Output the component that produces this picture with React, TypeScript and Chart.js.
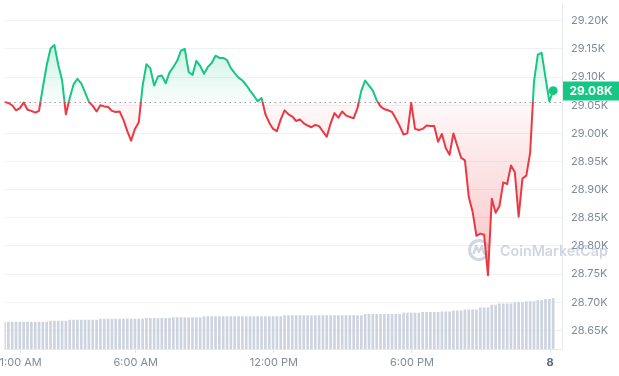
import React, { useEffect, useRef } from "react";
import { Chart, registerables } from "chart.js";

Chart.register(...registerables);

// ---- data ----
const START_MINUTE = 18; // minutes after midnight of first sample
const STEP_MINUTES = 10;
const AXIS_END_MINUTE = 1471;

const prices = [
  29056, 29054, 29050, 29041, 29045, 29055, 29042, 29040, 29037, 29040,
  29082, 29121, 29151, 29157, 29122, 29095, 29034, 29063, 29087, 29097,
  29089, 29073, 29056, 29049, 29039, 29050, 29048, 29047, 29040, 29038,
  29039, 29024, 29004, 28987, 29008, 29020, 29085, 29123, 29116, 29085,
  29101, 29103, 29089, 29108, 29118, 29129, 29147, 29150, 29109, 29104,
  29129, 29120, 29106, 29118, 29125, 29138, 29134, 29134, 29130, 29116,
  29107, 29099, 29094, 29086, 29076, 29067, 29057, 29063, 29034, 29019,
  29008, 29004, 29025, 29041, 29034, 29030, 29022, 29025, 29018, 29014,
  29011, 29015, 29013, 29003, 28994, 29018, 29036, 29028, 29039, 29032,
  29029, 29027, 29045, 29076, 29094, 29085, 29076, 29059, 29048, 29043,
  29041, 29038, 29026, 29013, 28998, 29000, 29054, 29008, 29006, 29008,
  29014, 29013, 29013, 28985, 28999, 28974, 28962, 29000, 28978, 28957,
  28952, 28887, 28861, 28818, 28822, 28820, 28748, 28884, 28859, 28871,
  28913, 28910, 28943, 28931, 28852, 28920, 28925, 28966, 29092, 29140,
  29143, 29099, 29057, 29076,
];

// 24h volume (billions)
const volumes = [
  12.0, 12.0, 12.0, 12.0, 12.0, 12.0, 12.0, 12.0, 12.0, 12.0, 12.0, 12.0,
  12.4, 12.4, 12.4, 12.4, 12.4,
  12.9, 12.9, 12.9, 12.9, 12.9, 12.9, 12.9, 12.9,
  13.3, 13.3, 13.3, 13.3, 13.3, 13.3, 13.3, 13.3, 13.3, 13.3, 13.3, 13.3,
  13.7, 13.7, 13.7, 13.7, 13.7, 13.7, 13.7,
  14.0, 14.0, 14.0, 14.0, 14.0, 14.0, 14.0, 14.0,
  14.4, 14.4, 14.4, 14.4, 14.4, 14.4, 14.4, 14.4, 14.4, 14.4, 14.4, 14.4, 14.4, 14.4, 14.4, 14.4, 14.4, 14.4, 14.4, 14.4, 14.4,
  14.9, 14.9, 14.9, 14.9, 14.9, 14.9, 14.9, 14.9, 14.9, 14.9, 14.9, 14.9, 14.9, 14.9, 14.9, 14.9, 14.9, 14.9, 14.9, 14.9, 14.9,
  15.4, 15.4, 15.4, 15.4, 15.4, 15.4, 15.4, 15.4, 15.4, 15.4,
  16.0, 16.0, 16.0, 16.0, 16.0,
  16.3, 16.3, 16.3, 16.3, 16.3,
  16.6, 16.6, 16.6,
  17.0, 17.0, 17.0,
  17.4, 17.4, 17.4, 17.4,
  18.3, 18.3, 18.3,
  19.6, 19.6,
  20.1, 20.1, 20.1, 20.1,
  20.7, 20.7, 20.7,
  21.1, 21.1, 21.1,
  21.6, 21.6,
  22.1, 22.1,
  22.4,
];
const VOLUME_AXIS_MAX = 153.4;

const xTickMinutes = [60, 360, 720, 1080, 1440];
const xTickLabels = ["1:00 AM", "6:00 AM", "12:00 PM", "6:00 PM", "8"];

const yTicks = [28650, 28700, 28750, 28800, 28850, 28900, 28950, 29000, 29050, 29100, 29150, 29200];
const Y_MIN = 28617;
const Y_MAX = 29229;

const WATERMARK = "CoinMarketCap";

// ---- styles ----
const FONT = "Inter, 'Noto Sans', sans-serif";
const GREEN = "#16c784";
const RED = "#ea3943";
const LABEL = "#808a9d";
const GRID = "#eff2f5";

const fmtK = (v: number) => (v / 1000).toFixed(2) + "K";

export default function App() {
  const ref = useRef<HTMLCanvasElement>(null);

  useEffect(() => {
    document.body.style.margin = "0";
    const canvas = ref.current!;
    const openPrice = prices[0];
    const lastPrice = prices[prices.length - 1];
    const n = prices.length;

    const linePoints = prices.map((p, i) => ({ x: START_MINUTE + i * STEP_MINUTES, y: p }));
    const volPoints = volumes.map((v, i) => ({ x: START_MINUTE + i * STEP_MINUTES, y: v }));

    const overlay = {
      id: "overlay",
      beforeDatasetsDraw(chart: any) {
        const { ctx, chartArea, scales } = chart;
        // watermark
        ctx.save();
        const col = "rgba(161,173,199,0.5)";
        const cx = chartArea.right - 83;
        const cy = chartArea.bottom - 99;
        ctx.strokeStyle = col;
        ctx.lineWidth = 3;
        ctx.beginPath();
        ctx.arc(cx, cy, 9.5, Math.PI * 0.15, Math.PI * 1.95);
        ctx.stroke();
        ctx.lineWidth = 2.4;
        ctx.lineJoin = "round";
        ctx.beginPath();
        ctx.moveTo(cx - 5.5, cy + 4);
        ctx.lineTo(cx - 3, cy - 4);
        ctx.lineTo(cx, cy + 2);
        ctx.lineTo(cx + 3, cy - 4);
        ctx.lineTo(cx + 5, cy + 4);
        ctx.lineTo(cx + 9, cy + 1);
        ctx.stroke();
        ctx.fillStyle = col;
        let size = 17;
        ctx.font = `600 ${size}px ${FONT}`;
        const w = ctx.measureText(WATERMARK).width;
        size = Math.min(17, (17 * 108) / w);
        ctx.font = `600 ${size}px ${FONT}`;
        ctx.textAlign = "left";
        ctx.textBaseline = "middle";
        ctx.fillText(WATERMARK, cx + 21, cy + 1.5);
        ctx.restore();

        // dotted opening price line
        const y = Math.round(scales.y.getPixelForValue(openPrice)) + 0.5;
        ctx.save();
        ctx.beginPath();
        ctx.setLineDash([1.5, 3.5]);
        ctx.strokeStyle = "#9aa1b0";
        ctx.lineWidth = 1;
        ctx.moveTo(chartArea.left, y);
        ctx.lineTo(chartArea.right, y);
        ctx.stroke();
        ctx.restore();
      },
      afterDraw(chart: any) {
        const { ctx, chartArea, scales, width } = chart;
        const y = scales.y.getPixelForValue(lastPrice);
        ctx.save();
        ctx.fillStyle = lastPrice >= openPrice ? GREEN : RED;
        const left = chartArea.right + 1;
        ctx.fillRect(left, Math.round(y) - 9.5, width - left, 19);
        ctx.fillStyle = "#ffffff";
        ctx.font = `bold 12px ${FONT}`;
        ctx.textAlign = "center";
        ctx.textBaseline = "middle";
        ctx.fillText(fmtK(lastPrice), (left + width) / 2, Math.round(y) + 0.5);
        ctx.restore();
      },
    };

    const chart = new Chart(canvas, {
      type: "line",
      data: {
        datasets: [
          {
            type: "line",
            data: linePoints,
            yAxisID: "y",
            borderColor: GREEN,
            borderWidth: 2,
            borderJoinStyle: "round",
            tension: 0,
            pointRadius: (c: any) => (c.dataIndex === n - 1 ? 4.5 : 0),
            pointBackgroundColor: lastPrice >= openPrice ? GREEN : RED,
            pointBorderWidth: 0,
            pointHoverRadius: 0,
            fill: { target: { value: openPrice }, above: "rgba(22,199,132,0.1)", below: "rgba(234,57,67,0.1)" },
            order: 0,
          } as any,
          {
            type: "bar",
            data: volPoints,
            yAxisID: "yv",
            backgroundColor: "#cdd3df",
            barThickness: 2,
            order: 1,
          } as any,
        ],
      },
      options: {
        responsive: false,
        animation: false,
        events: [],
        layout: { padding: 0 },
        plugins: { legend: { display: false }, tooltip: { enabled: false } },
        scales: {
          x: {
            type: "linear",
            offset: false,
            min: START_MINUTE,
            max: AXIS_END_MINUTE,
            afterBuildTicks: (s: any) => {
              s.ticks = xTickMinutes.map((v) => ({ value: v }));
            },
            afterFit: (s: any) => {
              s.paddingLeft = 0;
              s.paddingRight = 0;
              s.height = 27;
            },
            grid: { display: true, offset: false, drawOnChartArea: false, drawTicks: true, tickLength: 4, color: "#dfe3ea" },
            border: { display: true, color: "#e6e9ee" },
            ticks: {
              autoSkip: false,
              maxRotation: 0,
              padding: 3,
              callback: (v: any) => {
                const k = xTickMinutes.indexOf(Number(v));
                return k >= 0 ? xTickLabels[k] : "";
              },
              color: (c: any) => (c.index === xTickLabels.length - 1 ? "#58667e" : LABEL),
              font: (c: any) => ({
                family: FONT,
                size: 11,
                weight: c.index === xTickLabels.length - 1 ? "bold" : "normal",
              }),
            },
          },
          y: {
            position: "right",
            min: Y_MIN,
            max: Y_MAX,
            afterBuildTicks: (s: any) => {
              s.ticks = yTicks.map((v) => ({ value: v }));
            },
            afterFit: (s: any) => {
              s.paddingTop = 0;
              s.paddingBottom = 0;
              s.width = 57;
            },
            grid: { color: GRID, drawTicks: false },
            border: { display: true, color: "#e6e9ee" },
            ticks: {
              padding: 9,
              color: LABEL,
              font: { family: FONT, size: 11 },
              callback: (v: any) => fmtK(Number(v)),
            },
          },
          yv: {
            display: false,
            min: 0,
            max: VOLUME_AXIS_MAX,
          },
        },
      } as any,
      plugins: [overlay],
    });

    // gradients computed from the laid-out scales
    const ctx = chart.ctx;
    const area = chart.chartArea;
    const ys = chart.scales.y;
    const by = ys.getPixelForValue(openPrice);
    const frac = Math.min(1, Math.max(0, (by - area.top) / (area.bottom - area.top)));
    const stroke = ctx.createLinearGradient(0, area.top, 0, area.bottom);
    stroke.addColorStop(0, GREEN);
    stroke.addColorStop(frac, GREEN);
    stroke.addColorStop(frac, RED);
    stroke.addColorStop(1, RED);
    const topY = ys.getPixelForValue(Math.max(...prices));
    const botY = ys.getPixelForValue(Math.min(...prices));
    const gFill = ctx.createLinearGradient(0, topY, 0, by);
    gFill.addColorStop(0, "rgba(22,199,132,0.22)");
    gFill.addColorStop(1, "rgba(22,199,132,0.02)");
    const rFill = ctx.createLinearGradient(0, by, 0, botY);
    rFill.addColorStop(0, "rgba(234,57,67,0.03)");
    rFill.addColorStop(1, "rgba(234,57,67,0.3)");
    const ds: any = chart.data.datasets[0];
    ds.borderColor = stroke;
    ds.fill = { target: { value: openPrice }, above: gFill, below: rFill };
    chart.update();

    return () => chart.destroy();
  }, []);

  return (
    <div style={{ width: 619, height: 376, background: "#ffffff" }}>
      <canvas ref={ref} width={619} height={376} style={{ display: "block" }} />
    </div>
  );
}
